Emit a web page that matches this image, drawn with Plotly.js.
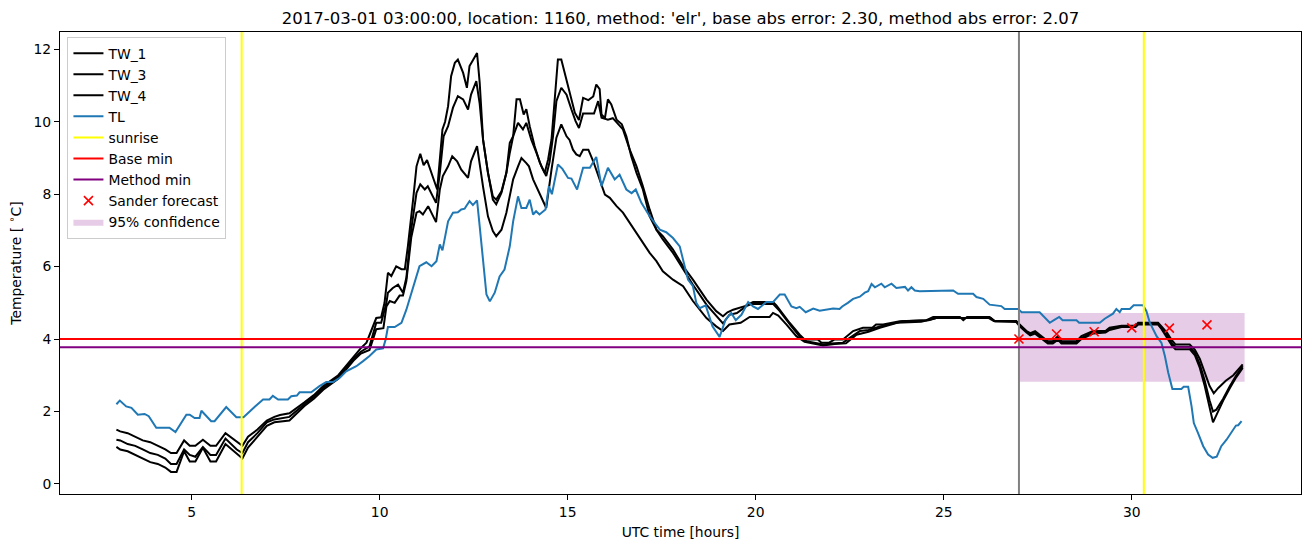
<!DOCTYPE html>
<html>
<head>
<meta charset="utf-8">
<script src="https://cdn.plot.ly/plotly-3.0.1.min.js"></script>
<style>html,body{margin:0;padding:0;background:#fff;}#chart{width:1310px;height:547px;}</style>
</head>
<body>
<div id="chart"></div>
<script>
// ---------- data ----------
const tw1Time = [3.0,3.1,3.3,3.5,3.7,3.9,4.1,4.3,4.45,4.6,4.8,4.95,5.1,5.3,5.5,5.65,5.9,6.2,6.35,6.5,6.75,7.0,7.2,7.35,7.6,8.0,8.25,8.5,8.7,8.9,9.1,9.3,9.5,9.65,9.8,9.91,10.04,10.13,10.22,10.31,10.44,10.58,10.67,10.75,10.89,10.98,11.08,11.17,11.26,11.37,11.44,11.53,11.6,11.67,11.74,11.82,11.9,12.0,12.08,12.22,12.32,12.39,12.48,12.59,12.66,12.75,12.88,13.01,13.1,13.24,13.37,13.46,13.55,13.64,13.73,13.83,13.9,13.99,14.12,14.26,14.39,14.48,14.57,14.65,14.74,14.83,14.97,15.05,15.19,15.3,15.41,15.55,15.68,15.76,15.85,15.9,15.99,16.07,16.16,16.3,16.44,16.56,16.69,16.83,17.0,17.18,17.36,17.53,17.8,18.07,18.33,18.69,18.95,19.13,19.25,19.4,19.71,19.93,20.46,20.55,20.9,21.17,21.3,21.65,21.75,21.95,22.1,22.32,22.45,22.59,22.85,23.1,23.2,23.39,23.83,24.54,24.72,25.43,25.52,25.62,26.22,26.36,26.93,27.02,27.2,27.3,27.43,27.55,27.77,27.9,28.04,28.13,28.53,28.66,28.97,29.3,29.41,29.73,30.1,30.17,30.7,30.79,30.94,31.07,31.16,31.54,31.68,31.81,31.94,32.07,32.18,32.3,32.5,32.7,32.95];
const tw1 = [1.5,1.45,1.4,1.3,1.2,1.15,1.05,0.95,0.85,0.85,1.2,1.05,1.05,1.22,1.05,1.05,1.4,1.15,1.05,1.3,1.5,1.75,1.85,1.9,1.95,2.25,2.45,2.7,2.85,3.0,3.25,3.5,3.75,3.9,4.3,4.58,4.6,5.0,5.83,5.74,6.01,5.93,5.93,6.56,7.85,8.77,9.12,8.8,8.94,8.64,8.4,8.13,8.96,9.79,10.0,10.43,11.26,11.63,11.72,11.35,10.94,11.54,11.7,11.9,11.08,9.51,8.59,7.94,7.85,8.08,8.59,9.42,9.6,10.62,10.62,10.2,10.35,9.88,9.33,8.87,8.59,8.96,9.51,10.62,11.72,11.72,11.17,10.8,10.25,10.05,10.66,10.6,10.7,11.03,10.9,10.2,10.1,10.62,10.48,10.06,9.93,9.6,9.05,8.59,8.13,7.39,7.02,6.84,6.47,6.01,5.64,5.09,4.77,4.63,4.74,4.81,4.91,5.02,5.02,4.93,4.45,4.12,3.99,3.99,3.9,3.9,3.99,3.99,4.1,4.22,4.31,4.31,4.4,4.4,4.49,4.52,4.61,4.61,4.52,4.61,4.61,4.49,4.49,4.4,4.22,4.16,4.22,4.12,3.94,3.94,4.08,3.94,3.94,4.08,4.22,4.22,4.31,4.37,4.37,4.45,4.45,4.35,4.17,3.96,3.85,3.85,3.7,3.45,3.1,2.7,2.5,2.65,2.85,3.0,3.3];

const tw3Time = [3.0,3.1,3.3,3.5,3.7,3.9,4.1,4.3,4.45,4.6,4.8,4.95,5.1,5.3,5.5,5.65,5.9,6.2,6.35,6.5,6.75,7.0,7.2,7.35,7.6,8.0,8.25,8.5,8.7,8.9,9.1,9.3,9.5,9.73,9.91,10.04,10.18,10.22,10.35,10.49,10.62,10.71,10.84,10.98,11.08,11.2,11.28,11.42,11.5,11.6,11.7,11.82,11.95,12.08,12.22,12.35,12.43,12.57,12.66,12.75,12.88,13.01,13.1,13.24,13.37,13.46,13.55,13.68,13.81,13.9,14.03,14.17,14.3,14.43,14.52,14.61,14.7,14.83,14.97,15.1,15.21,15.3,15.41,15.7,15.81,15.9,16.07,16.2,16.34,16.47,16.65,16.83,17.0,17.18,17.36,17.53,17.8,18.07,18.33,18.69,19.04,19.13,19.3,19.5,19.75,19.9,20.46,20.64,20.95,21.2,21.35,21.61,21.8,22.0,22.32,22.54,22.77,23.0,23.3,23.74,24.4,24.8,26.2,26.33,26.93,27.02,27.2,27.3,27.43,27.55,27.77,27.9,28.04,28.13,28.53,28.66,28.97,29.3,29.41,29.73,30.1,30.17,30.7,30.79,30.94,31.07,31.16,31.54,31.68,31.81,31.94,32.07,32.16,32.25,32.43,32.61,32.78,32.95];
const tw3 = [1.22,1.2,1.1,1.05,0.95,0.85,0.8,0.7,0.55,0.55,0.95,0.8,0.75,1.02,0.8,0.8,1.25,0.95,0.85,1.15,1.4,1.7,1.78,1.8,1.85,2.2,2.4,2.65,2.8,2.95,3.2,3.45,3.65,3.8,4.45,4.45,5.0,5.28,5.41,5.5,5.28,5.69,7.03,8.04,8.27,8.13,8.22,7.94,7.76,8.59,9.6,9.88,10.39,10.71,10.62,10.34,10.75,11.12,10.5,9.5,8.6,7.85,7.72,8.04,8.59,9.14,9.6,9.97,9.79,9.97,9.51,9.14,8.77,8.5,8.9,9.6,10.57,10.94,10.75,10.34,10.02,9.83,10.23,10.23,10.57,10.11,10.06,10.1,9.93,9.79,9.23,8.77,8.22,7.58,7.02,6.75,6.38,5.92,5.5,4.95,4.54,4.43,4.67,4.72,4.91,4.97,4.97,4.77,4.35,4.03,3.94,3.88,3.85,3.88,3.9,4.06,4.22,4.25,4.35,4.45,4.48,4.58,4.58,4.5,4.5,4.38,4.2,4.12,4.18,4.08,3.9,3.9,4.02,3.9,3.9,4.03,4.18,4.2,4.28,4.35,4.35,4.42,4.42,4.3,4.1,3.88,3.78,3.78,3.62,3.3,2.85,2.3,2.0,2.05,2.35,2.7,3.0,3.25];

const tw4Time = [3.0,3.1,3.3,3.5,3.7,3.9,4.1,4.3,4.45,4.6,4.8,4.95,5.1,5.3,5.5,5.65,5.9,6.2,6.35,6.5,6.75,7.0,7.2,7.35,7.6,8.0,8.25,8.5,8.7,8.9,9.1,9.3,9.5,9.73,9.91,10.1,10.18,10.27,10.4,10.53,10.62,10.71,10.84,10.98,11.06,11.15,11.29,11.42,11.5,11.6,11.68,11.82,11.93,12.06,12.17,12.35,12.43,12.59,12.66,12.75,12.88,13.01,13.1,13.24,13.37,13.46,13.55,13.68,13.77,13.9,13.97,14.08,14.21,14.34,14.43,14.57,14.7,14.83,14.97,15.05,15.14,15.23,15.32,15.41,15.55,15.68,15.85,15.99,16.12,16.3,16.47,16.65,16.83,17.0,17.18,17.36,17.53,17.8,18.07,18.33,18.69,18.95,19.13,19.3,19.6,19.84,20.37,20.46,20.6,20.82,21.08,21.3,21.52,21.79,22.1,22.4,22.68,23.0,23.3,23.6,23.9,24.6,24.8,26.25,26.36,26.93,27.02,27.2,27.3,27.43,27.55,27.77,27.9,28.04,28.13,28.53,28.66,28.97,29.3,29.41,29.73,30.1,30.17,30.7,30.79,30.94,31.07,31.16,31.54,31.68,31.81,31.94,32.07,32.16,32.25,32.43,32.61,32.78,32.95];
const tw4 = [1.02,0.95,0.9,0.8,0.7,0.6,0.55,0.45,0.33,0.33,0.9,0.62,0.62,1.0,0.62,0.62,1.1,0.85,0.7,1.0,1.3,1.6,1.7,1.72,1.75,2.15,2.35,2.6,2.75,2.9,3.15,3.4,3.6,3.7,4.27,4.3,4.9,5.05,5.0,5.2,5.2,5.6,6.8,7.49,7.53,7.44,7.67,7.39,7.23,8.13,8.5,8.77,9.05,8.91,8.68,8.45,8.91,9.33,8.77,8.2,7.39,6.98,6.84,7.02,7.49,7.94,8.41,8.77,9.0,8.86,8.77,8.41,8.13,7.85,7.62,8.68,9.56,9.93,9.6,9.5,9.23,9.1,9.05,9.23,9.23,8.91,8.41,7.99,7.9,7.67,7.49,7.21,6.93,6.66,6.38,6.15,5.87,5.64,5.46,5.05,4.58,4.35,4.22,4.4,4.45,4.61,4.61,4.72,4.65,4.4,4.08,3.92,3.88,3.82,3.86,3.88,4.12,4.2,4.31,4.4,4.49,4.52,4.58,4.58,4.49,4.47,4.35,4.18,4.1,4.15,4.05,3.88,3.88,3.98,3.88,3.88,4.0,4.15,4.18,4.25,4.33,4.33,4.4,4.4,4.28,4.05,3.82,3.72,3.72,3.55,3.2,2.7,2.1,1.70,1.9,2.3,2.65,2.95,3.2];

const tlTime = [3.0,3.09,3.26,3.4,3.57,3.75,3.86,4.06,4.41,4.57,4.86,4.95,5.08,5.21,5.26,5.52,5.61,5.92,6.19,6.38,6.68,6.9,7.07,7.16,7.3,7.56,7.65,7.8,7.87,8.18,8.4,8.58,8.76,8.94,9.11,9.38,9.56,9.73,9.91,10.09,10.16,10.22,10.4,10.58,10.71,10.89,11.06,11.24,11.38,11.51,11.6,11.67,11.82,11.95,12.08,12.17,12.26,12.3,12.39,12.48,12.59,12.66,12.84,12.93,13.06,13.19,13.32,13.46,13.55,13.68,13.77,13.9,13.99,14.08,14.16,14.25,14.41,14.5,14.58,14.74,14.86,15.01,15.1,15.25,15.41,15.59,15.76,15.9,16.07,16.25,16.38,16.56,16.7,16.81,16.96,17.18,17.36,17.45,17.62,17.8,17.98,18.07,18.2,18.33,18.42,18.51,18.67,18.85,19.04,19.2,19.35,19.47,19.62,19.8,19.93,20.06,20.28,20.46,20.64,20.77,20.95,21.08,21.17,21.33,21.53,21.7,22.06,22.23,22.3,22.45,22.59,22.77,22.9,22.99,23.08,23.17,23.34,23.43,23.61,23.74,23.97,24.05,24.14,24.23,24.36,25.25,25.38,25.78,25.87,26.05,26.22,26.53,26.62,26.98,27.07,27.55,27.69,27.82,27.93,28.07,28.16,28.53,28.6,29.15,29.28,29.4,29.5,29.59,29.68,29.73,29.95,30.05,30.3,30.39,30.48,30.66,30.79,30.88,30.97,31.08,31.32,31.38,31.5,31.59,31.65,31.76,31.9,32.03,32.15,32.26,32.38,32.52,32.65,32.77,32.83,32.92];
const tl = [2.2,2.3,2.14,2.1,1.91,1.93,1.87,1.55,1.55,1.43,1.91,1.91,1.82,1.82,2.02,1.73,1.73,2.12,1.84,1.84,2.13,2.33,2.33,2.43,2.33,2.33,2.42,2.44,2.53,2.53,2.7,2.81,2.81,2.93,3.11,3.25,3.39,3.53,3.71,3.74,3.99,4.33,4.33,4.45,4.81,5.46,6.01,6.12,6.01,6.15,6.61,6.45,7.25,7.49,7.5,7.58,7.6,7.67,7.81,7.7,7.83,7.12,5.23,5.04,5.28,5.73,5.92,6.56,7.25,7.94,7.62,7.62,7.85,7.44,7.53,7.44,7.58,8.22,8.0,8.82,8.7,8.45,8.43,8.13,8.73,8.73,9.03,8.22,8.73,8.41,8.54,8.13,8.03,8.13,7.76,7.39,7.16,7.02,6.95,6.79,6.56,6.2,5.64,5.46,5.0,4.85,4.93,4.35,4.06,4.54,4.72,4.52,4.67,5.02,4.9,4.83,5.02,5.02,5.23,5.23,4.9,4.85,4.89,4.74,4.84,4.78,4.84,4.83,4.9,5.0,5.11,5.17,5.28,5.32,5.52,5.43,5.53,5.43,5.53,5.41,5.44,5.34,5.43,5.34,5.32,5.34,5.25,5.25,5.16,5.11,4.95,4.91,4.83,4.83,4.74,4.74,4.59,4.45,4.52,4.61,4.52,4.52,4.45,4.45,4.56,4.63,4.7,4.83,4.74,4.83,4.83,4.93,4.93,4.77,4.45,4.08,3.89,3.53,3.07,2.62,2.62,2.68,2.68,2.14,1.68,1.41,1.04,0.81,0.72,0.75,1.04,1.22,1.41,1.61,1.62,1.73];

const sunriseHours = [6.33, 30.32];
const baseMin = 4.00;
const methodMin = 3.77;
const forecastStart = 27.0;
const sanderHours = [27, 28, 29, 30, 31, 32];
const sanderForecast = [4.00, 4.14, 4.20, 4.31, 4.30, 4.39];
const confidenceHours = [27, 33];
const confidenceLow = 2.82;
const confidenceHigh = 4.72;

const xTicks = [5, 10, 15, 20, 25, 30];
const yTicks = [0, 2, 4, 6, 8, 10, 12];
const xRange = [1.5, 34.5];
const yRange = [-0.28, 12.48];

const titleText = "2017-03-01 03:00:00, location: 1160, method: 'elr', base abs error: 2.30, method abs error: 2.07";

// ---------- traces ----------
const LW = 2;
const traces = [];

traces.push({
  x: [confidenceHours[0], confidenceHours[1], confidenceHours[1], confidenceHours[0], confidenceHours[0]],
  y: [confidenceLow, confidenceLow, confidenceHigh, confidenceHigh, confidenceLow],
  mode: 'lines', fill: 'toself', fillcolor: 'rgba(128,0,128,0.2)',
  line: {width: 0, color: 'rgba(128,0,128,0)'},
  name: '95% confidence', legendrank: 9, hoverinfo: 'skip'
});
traces.push({x: tw1Time, y: tw1, mode: 'lines', line: {color: '#000', width: LW}, name: 'TW_1', legendrank: 1});
traces.push({x: tw3Time, y: tw3, mode: 'lines', line: {color: '#000', width: LW}, name: 'TW_3', legendrank: 2});
traces.push({x: tw4Time, y: tw4, mode: 'lines', line: {color: '#000', width: LW}, name: 'TW_4', legendrank: 3});
traces.push({x: tlTime, y: tl, mode: 'lines', line: {color: '#1f77b4', width: LW}, name: 'TL', legendrank: 4});
traces.push({
  x: [forecastStart, forecastStart], y: yRange, mode: 'lines',
  line: {color: 'gray', width: LW}, showlegend: false, hoverinfo: 'skip'
});
const sx = [], sy = [];
sunriseHours.forEach((h, i) => { if (i) { sx.push(null); sy.push(null); } sx.push(h, h); sy.push(yRange[0], yRange[1]); });
traces.push({x: sx, y: sy, mode: 'lines', line: {color: 'yellow', width: LW}, name: 'sunrise', legendrank: 5});
traces.push({x: xRange, y: [baseMin, baseMin], mode: 'lines', line: {color: 'red', width: LW}, name: 'Base min', legendrank: 6});
traces.push({x: xRange, y: [methodMin, methodMin], mode: 'lines', line: {color: 'purple', width: LW}, name: 'Method min', legendrank: 7});
traces.push({
  x: sanderHours, y: sanderForecast, mode: 'markers',
  marker: {symbol: 'x-thin-open', size: 9, color: 'red', line: {color: 'red', width: 1.6}},
  name: 'Sander forecast', legendrank: 8
});

const font = {family: 'DejaVu Sans', size: 13.9, color: '#000'};

const layout = {
  width: 1310, height: 547,
  margin: {l: 60, r: 9, t: 32, b: 53, pad: 0},
  paper_bgcolor: '#fff', plot_bgcolor: '#fff',
  font: font,
  showlegend: true,
  title: {text: titleText, font: {family: 'DejaVu Sans', size: 16.5, color: '#000'},
          xref: 'paper', x: 0.5, xanchor: 'center', yref: 'container', y: 1 - 18/547, yanchor: 'middle'},
  xaxis: {
    range: xRange, autorange: false, tickmode: 'array', tickvals: xTicks, ticktext: xTicks.map(String),
    showgrid: false, zeroline: false, showline: true, mirror: true, linecolor: '#000', linewidth: 1,
    ticks: 'outside', ticklen: 5, tickwidth: 1, tickcolor: '#000', tickfont: font,
    title: {text: 'UTC time [hours]', font: font, standoff: 8}, automargin: false
  },
  yaxis: {
    range: yRange, autorange: false, tickmode: 'array', tickvals: yTicks, ticktext: yTicks.map(String),
    showgrid: false, zeroline: false, showline: true, mirror: true, linecolor: '#000', linewidth: 1,
    ticks: 'outside', ticklen: 5, tickwidth: 1, tickcolor: '#000', tickfont: font,
    title: {text: 'Temperature [ <sup>∘</sup>C]', font: font, standoff: 8}, automargin: false
  },
  legend: {
    x: 0.006, y: 0.99, xanchor: 'left', yanchor: 'top',
    bgcolor: 'rgba(255,255,255,0.8)', bordercolor: '#cccccc', borderwidth: 1,
    font: font, tracegroupgap: 0, itemwidth: 30, traceorder: 'normal'
  }
};

Plotly.newPlot('chart', traces, layout, {staticPlot: true, displayModeBar: false});
</script>
</body>
</html>
